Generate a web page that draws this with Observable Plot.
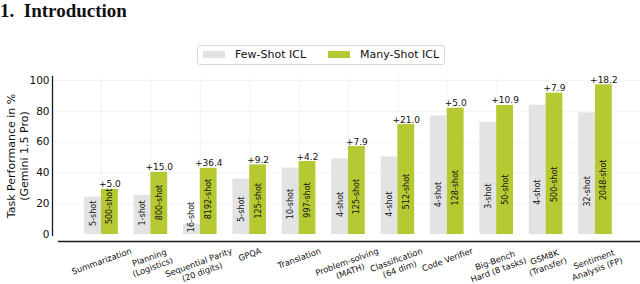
<!DOCTYPE html>
<html><head><meta charset="utf-8">
<script src="https://cdn.jsdelivr.net/npm/d3@7"></script>
<script src="https://cdn.jsdelivr.net/npm/@observablehq/plot@0.6"></script>
<style>
body{margin:0;background:#fff;}
#wrap{position:relative;width:640px;height:284px;overflow:hidden;font-family:"DejaVu Sans",sans-serif;color:#000;}
#head{position:relative;height:70px;}
#title{position:absolute;left:0;top:0;font:bold 19px "Liberation Serif",serif;line-height:normal;white-space:pre;color:#111;}
#legend{position:absolute;left:197px;top:45px;width:248px;height:20px;box-sizing:border-box;border:1px solid #dadada;border-radius:3px;}
.sw{position:absolute;top:5px;width:22px;height:7px;}
.lt{position:absolute;top:0;font-size:11px;line-height:18px;white-space:nowrap;color:#111;}
#chart svg{display:block;}
</style></head>
<body><div id="wrap">
<div id="head"><div id="title">1.  Introduction</div>
<div id="legend"></div></div>
<div id="chart"></div>
</div>
<script>
const categories = ["Summarization", "Planning\n(Logistics)", "Sequential Parity\n(20 digits)", "GPQA", "Translation", "Problem-solving\n(MATH)", "Classification\n(64 dim)", "Code Verifier", "Big-Bench\nHard (8 tasks)", "GSM8K\n(Transfer)", "Sentiment\nAnalysis (FP)"];
const fewShot = [24.3, 25.4, 6.6, 36.0, 43.2, 49.2, 50.4, 77.0, 72.9, 83.9, 79.0];
const manyShot = [29.3, 40.4, 43.0, 45.2, 47.4, 57.1, 71.4, 82.0, 83.8, 91.8, 97.2];
const gains = ["+5.0", "+15.0", "+36.4", "+9.2", "+4.2", "+7.9", "+21.0", "+5.0", "+10.9", "+7.9", "+18.2"];
const fewShotCounts = ["5-shot", "1-shot", "16-shot", "5-shot", "10-shot", "4-shot", "4-shot", "4-shot", "3-shot", "4-shot", "32-shot"];
const manyShotCounts = ["500-shot", "800-shot", "8192-shot", "125-shot", "997-shot", "125-shot", "512-shot", "128-shot", "50-shot", "500-shot", "2048-shot"];
const series = ["Few-Shot ICL", "Many-Shot ICL"];
const yTicks = [0, 20, 40, 60, 80, 100];

const colors = {"Few-Shot ICL": "#e3e3e3", "Many-Shot ICL": "#b6c932"};

// legend
const legend = document.getElementById("legend");
[[5, 37], [130, 162]].forEach(([sx, tx], k) => {
  const s = document.createElement("div"); s.className = "sw"; s.style.left = sx + "px"; s.style.background = colors[series[k]]; legend.appendChild(s);
  const t = document.createElement("div"); t.className = "lt"; t.style.left = tx + "px"; t.textContent = series[k]; legend.appendChild(t);
});

const rows = categories.map((cat, i) => ({
  i, cat, few: fewShot[i], many: manyShot[i], gain: gains[i], fewN: fewShotCounts[i], manyN: manyShotCounts[i]
}));

const W = 640, H = 214, mTop = 6, mBottom = 49;
const half = 0.34, off = 0.17;
const labelFont = 8.3, labelAngle = 20, labelLH = 1.2;
const ctx = document.createElement("canvas").getContext("2d");
ctx.font = `${labelFont}px "DejaVu Sans"`;
const frameBottom = H - mBottom;
const labelTop = 175; // top of rotated label boxes (svg px), like matplotlib va="top"
const labelMarks = rows.map(r => {
  const lines = r.cat.split("\n");
  const w = Math.max(...lines.map(l => ctx.measureText(l).width));
  const h = lines.length * labelFont * labelLH;
  const a = labelAngle * Math.PI / 180;
  const bh = w * Math.sin(a) + h * Math.cos(a);
  return Plot.text([r], {
    x: "i", text: "cat", frameAnchor: "bottom", dy: labelTop - frameBottom + bh / 2,
    rotate: -labelAngle, textAnchor: "middle", lineAnchor: "middle", lineHeight: labelLH,
    fontSize: labelFont, fill: "#111"
  });
});

const chart = Plot.plot({
  width: W, height: H,
  marginLeft: 52, marginRight: 0, marginTop: mTop, marginBottom: mBottom,
  style: {fontFamily: '"DejaVu Sans", sans-serif', background: "#fff", overflow: "visible"},
  x: {type: "linear", domain: [-0.992, 10.911], axis: null},
  y: {domain: [-0.65, 102.6], axis: null},
  marks: [
    Plot.ruleY(yTicks.filter(t => t > 0), {stroke: "#f1f1f1", strokeWidth: 0.8}),
    Plot.ruleX(rows, {x: "i", stroke: "#f1f1f1", strokeWidth: 0.8}),
    Plot.rectY(rows, {x1: d => d.i - half, x2: d => d.i, y1: 0, y2: "few", fill: colors["Few-Shot ICL"]}),
    Plot.rectY(rows, {x1: d => d.i, x2: d => d.i + half, y1: 0, y2: "many", fill: colors["Many-Shot ICL"]}),
    Plot.text(rows, {x: d => d.i - off, y: d => d.few * 0.23, text: "fewN", rotate: -90, textAnchor: "start", lineAnchor: "middle", fontSize: 8, fill: "#111"}),
    Plot.text(rows, {x: d => d.i + off, y: d => d.many * 0.23, text: "manyN", rotate: -90, textAnchor: "start", lineAnchor: "middle", fontSize: 8, fill: "#111"}),
    Plot.text(rows, {x: d => d.i + off, y: "many", text: "gain", lineAnchor: "bottom", dy: -2, fontSize: 9, fill: "#111"}),
    Plot.axisY({ticks: yTicks, tickSize: 0, tickPadding: 3, fontSize: 10.5, label: null, fill: "#111"}),
    Plot.frame({anchor: "left", stroke: "#1a1a1a", strokeWidth: 1.3}),
    Plot.ruleY([0], {dy: 7, insetLeft: 6, stroke: "#1a1a1a", strokeWidth: 1.5}),
    Plot.text(["Task Performance in %\n(Gemini 1.5 Pro)"], {frameAnchor: "left", dx: -35.5, rotate: -90, textAnchor: "middle", lineAnchor: "middle", lineHeight: 1.2, fontSize: 11, fill: "#111"}),
    ...labelMarks
  ]
});
document.getElementById("chart").appendChild(chart);
</script>
</body></html>
